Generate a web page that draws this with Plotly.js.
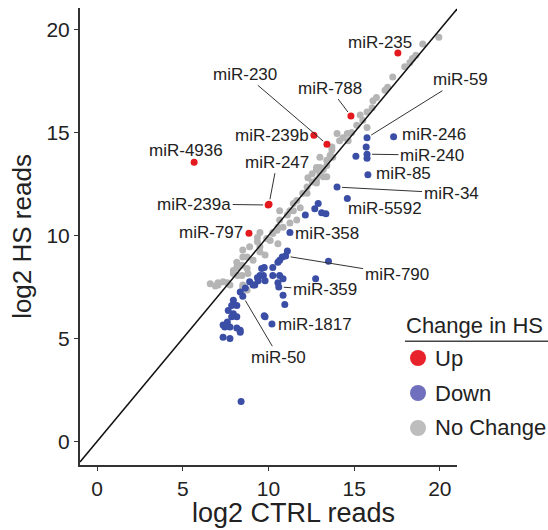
<!DOCTYPE html>
<html>
<head>
<meta charset="utf-8">
<script src="https://cdn.plot.ly/plotly-3.0.1.min.js"></script>
<style>html,body{margin:0;padding:0;background:#fff;}#chart{width:548px;height:530px;}</style>
</head>
<body>
<div id="chart"></div>
<script>
// ---- data: log2 CTRL reads (x) vs log2 HS reads (y) ----
var ncCtrl = [19.94,19.0,18.6,18.4,18.25,17.95,17.25,16.95,16.8,16.3,16.1,16.05,15.75,15.35,15.5,15.75,15.15,14.85,14.6,14.35,14.0,14.15,14.65,13.7,13.6,13.75,13.4,13.0,12.8,12.55,12.3,
  13.7,13.4,13.2,13.0,12.8,12.55,12.25,12.0,11.65,11.45,11.25,11.1,10.65,10.55,10.25,10.65,12.8,11.85,13.0,13.4,12.8,13.2,12.25,11.45,11.65,11.25,10.1,10.85,10.55,
  9.35,9.5,8.5,8.75,8.15,8.45,7.95,8.2,7.6,7.05,8.5,8.75,9.5,9.9,9.35,10.25,10.5,8.9,9.5,9.8,8.5,9.1,8.15,8.75,7.95,8.45,8.8,7.35,7.05,7.75,8.5,8.45,6.6,6.9];
var ncHS = [19.63,19.3,18.75,18.6,18.4,18.2,17.7,17.2,17.05,16.7,16.55,16.2,16.0,15.85,15.6,15.25,15.35,15.0,14.95,14.75,14.95,14.6,14.6,14.3,13.9,13.8,13.65,13.8,13.3,13.0,12.8,
  14.15,13.4,13.2,12.95,12.7,12.6,12.35,12.05,11.7,11.55,11.2,11.0,10.75,10.4,10.15,11.2,13.2,11.35,13.3,12.85,12.55,12.85,12.05,11.2,10.75,10.6,9.75,10.4,9.6,
  9.9,9.45,9.3,8.95,8.7,8.55,8.3,8.05,7.7,7.6,7.6,7.35,10.15,9.85,9.7,10.1,10.25,9.45,9.2,9.05,8.95,8.8,8.45,8.4,8.15,8.05,8.15,7.75,7.7,7.6,7.5,7.25,7.65,7.55];

var downCtrl = [15.75,17.3,15.7,15.1,15.75,15.75,15.8,14.0,14.6,12.7,12.9,13.1,13.35,12.15,11.25,
  11.1,11.0,10.8,10.55,10.65,10.25,9.6,9.75,9.5,9.7,9.8,9.4,9.35,8.9,9.2,9.1,8.65,8.35,8.5,10.25,10.65,10.85,10.55,12.75,13.5,10.6,10.85,10.95,9.8,9.75,10.2,
  7.95,7.85,8.15,7.65,7.95,7.85,8.15,7.6,7.75,8.15,8.35,7.45,7.35,7.75,7.35,8.35,8.4];
var downHS = [14.75,14.8,14.3,13.85,13.95,13.75,12.95,12.35,11.8,11.3,11.55,11.1,11.05,11.0,10.15,
  9.25,9.0,8.95,8.7,8.8,8.45,8.4,8.45,8.05,8.05,7.8,7.8,7.95,7.75,7.6,7.6,7.45,7.25,7.05,8.05,8.05,7.9,7.7,7.9,8.75,7.5,7.1,6.65,6.05,6.1,5.7,
  6.85,6.6,6.6,6.35,6.2,6.05,6.05,5.8,5.55,5.5,5.4,5.55,5.05,5.0,5.65,5.3,1.94];

var upCtrl = [17.55,14.81,13.41,12.65,5.66,10.03,9.98,8.86];
var upHS   = [18.86,15.8,14.43,14.87,13.56,11.52,11.48,10.11];

// labelled miRNAs (point coordinates)
var labelNames = ["miR-235","miR-788","miR-230","miR-239b","miR-4936","miR-247","miR-239a","miR-797",
  "miR-59","miR-246","miR-240","miR-85","miR-34","miR-5592","miR-358","miR-790","miR-359","miR-1817","miR-50"];
var labelCtrl = [17.55,14.81,13.41,12.65,5.66,10.03,9.98,8.86,15.75,17.3,15.75,15.8,14.0,14.6,11.25,11.0,10.6,10.2,8.5];
var labelHS   = [18.86,15.8,14.43,14.87,13.56,11.52,11.48,10.11,14.75,14.8,13.95,12.95,12.35,11.8,10.15,9.0,7.5,5.7,7.05];

var xTitle = "log2 CTRL reads", yTitle = "log2 HS reads";
var legendTitle = "Change in HS";
var legendNames = ["Up","Down","No Change"];

// ---- styles ----
var RED = "#e3191f", BLUE = "#3a4ea6", GRAY = "#b5b5b5";
var LEG_COLORS = ["#e8222a","#6f6fbe","#bdbdbd"];
var FONT = "Liberation Sans, Arial, sans-serif";

// label placement: line labels use arrow offsets (ax, ay); plain labels use shifts
var labelStyle = {
  "miR-235":  {sx:-18, sy:11},
  "miR-788":  {ax:-21, ay:-28},
  "miR-230":  {ax:-82, ay:-70},
  "miR-239b": {sx:-42, sy:0},
  "miR-4936": {sx:-8, sy:12},
  "miR-247":  {ax:8, ay:-42},
  "miR-239a": {ax:-74, ay:-1},
  "miR-797":  {sx:-38, sy:1},
  "miR-59":   {ax:93, ay:-58},
  "miR-246":  {sx:40, sy:2},
  "miR-240":  {ax:65, ay:1},
  "miR-85":   {sx:36, sy:1},
  "miR-34":   {ax:114, ay:6},
  "miR-5592": {sx:38, sy:-10},
  "miR-358":  {sx:37, sy:-1},
  "miR-790":  {ax:111, ay:18},
  "miR-359":  {ax:46, ay:3},
  "miR-1817": {sx:43, sy:-1},
  "miR-50":   {ax:36, ay:61}
};

var traces = [
  {x:ncCtrl, y:ncHS, type:"scatter", mode:"markers", name:"No Change", hoverinfo:"skip",
   marker:{color:GRAY, size:7, line:{width:0}}},
  {x:downCtrl, y:downHS, type:"scatter", mode:"markers", name:"Down", hoverinfo:"skip",
   marker:{color:BLUE, size:7, line:{width:0}}},
  {x:upCtrl, y:upHS, type:"scatter", mode:"markers", name:"Up", hoverinfo:"skip",
   marker:{color:RED, size:7, line:{width:0}}}
];

var annotations = labelNames.map(function(n,i){
  var s = labelStyle[n];
  var a = {x:labelCtrl[i], y:labelHS[i], xref:"x", yref:"y", text:n,
    font:{family:FONT, size:17, color:"#222"}};
  if (s.ax !== undefined) {
    a.showarrow = true; a.arrowhead = 0; a.arrowwidth = 1; a.arrowcolor = "#333";
    a.ax = s.ax; a.ay = s.ay; a.standoff = 5;
  } else {
    a.showarrow = false; a.xshift = s.sx; a.yshift = s.sy;
  }
  return a;
});

// x-axis title (placed off-centre, as in the reference)
annotations.push({xref:"paper", yref:"paper", x:0.5676, y:-0.1045, xanchor:"center", yanchor:"middle",
  text:xTitle, showarrow:false, font:{family:FONT, size:27, color:"#222"}});

// hand-drawn legend (paper coordinates of the plot area)
var LEG_MARK_X = 0.8966, LEG_TEXT_X = 0.9363, LEG_Y = [0.2341, 0.1575, 0.0810];
annotations.push({xref:"paper", yref:"paper", x:0.860, y:0.3063, xanchor:"left", yanchor:"middle",
  text:legendTitle, showarrow:false, font:{family:FONT, size:22, color:"#222"}});
var shapes = [
  {type:"line", xref:"x", yref:"y", x0:-1, y0:-1, x1:21, y1:21, line:{color:"#111", width:1.5}, layer:"above"},
  {type:"line", xref:"paper", yref:"paper", x0:0.862, x1:1.245, y0:0.271, y1:0.271, line:{color:"#444", width:1.5}}
];
legendNames.forEach(function(n,i){
  annotations.push({xref:"paper", yref:"paper", x:LEG_TEXT_X, y:LEG_Y[i], xanchor:"left", yanchor:"middle",
    text:n, showarrow:false, font:{family:FONT, size:22, color:"#222"}});
  shapes.push({type:"circle", xref:"paper", yref:"paper", xsizemode:"pixel", ysizemode:"pixel",
    xanchor:LEG_MARK_X, yanchor:LEG_Y[i], x0:-8, x1:8, y0:-8, y1:8,
    fillcolor:LEG_COLORS[i], line:{width:0}});
});

var layout = {
  width:548, height:530,
  margin:{l:80, r:91, t:8, b:65},
  paper_bgcolor:"#fff", plot_bgcolor:"#fff",
  font:{family:FONT, color:"#222"},
  showlegend:false,
  xaxis:{range:[-1,21], tickvals:[0,5,10,15,20], ticks:"outside", ticklen:4, tickwidth:1, tickcolor:"#333",
    showline:true, linecolor:"#333", linewidth:2, showgrid:false, zeroline:false,
    tickfont:{family:FONT, size:21, color:"#222"}},
  yaxis:{range:[-1.15,21.05], tickvals:[0,5,10,15,20], ticks:"outside", ticklen:4, tickwidth:1, tickcolor:"#333",
    showline:true, linecolor:"#333", linewidth:2, showgrid:false, zeroline:false,
    tickfont:{family:FONT, size:21, color:"#222"},
    title:{text:yTitle, font:{family:FONT, size:26, color:"#222"}, standoff:7}},
  shapes:shapes,
  annotations:annotations
};

Plotly.newPlot("chart", traces, layout, {displayModeBar:false, staticPlot:true});
</script>
</body>
</html>
